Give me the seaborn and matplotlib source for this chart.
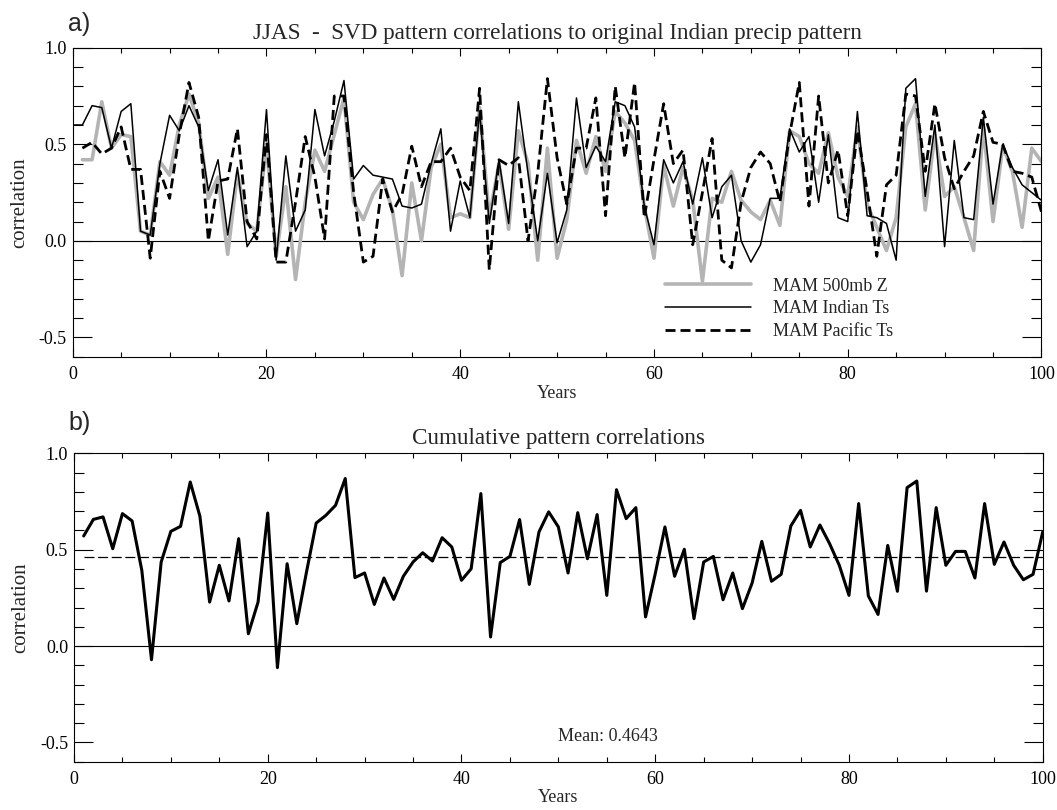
"""
JJAS - SVD pattern correlations: (a) per-predictor, (b) cumulative
"""
import numpy as np
import matplotlib
matplotlib.use("Agg")
import matplotlib.pyplot as plt
from matplotlib.ticker import MultipleLocator
import seaborn as sns

# ---------------------- data ----------------------
years = np.arange(1, 101)
years_ind = np.arange(0, 101)   # Indian Ts curve starts at year 0

z500 = [0.42, 0.42, 0.72, 0.48, 0.55, 0.54, 0.05, 0.03, 0.41, 0.34,
        0.60, 0.76, 0.61, 0.22, 0.33, -0.07, 0.35, 0.09, 0.05, 0.50,
        -0.08, 0.28, -0.20, 0.20, 0.47, 0.36, 0.55, 0.74, 0.20, 0.11,
        0.24, 0.32, 0.16, -0.18, 0.30, 0.00, 0.38, 0.50, 0.12, 0.14,
        0.12, 0.69, 0.12, 0.40, 0.06, 0.57, 0.40, -0.10, 0.48, -0.09,
        0.11, 0.52, 0.35, 0.54, 0.36, 0.67, 0.61, 0.52, 0.18, -0.09,
        0.39, 0.18, 0.38, 0.21, -0.21, 0.22, 0.20, 0.36, 0.21, 0.15,
        0.11, 0.21, 0.08, 0.57, 0.54, 0.40, 0.35, 0.56, 0.33, 0.23,
        0.59, 0.19, 0.07, -0.05, 0.12, 0.59, 0.71, 0.16, 0.55, 0.23,
        0.28, 0.12, -0.05, 0.59, 0.10, 0.49, 0.36, 0.07, 0.48, 0.41]

indian_ts = [0.60,
             0.60, 0.70, 0.69, 0.48, 0.67, 0.71, 0.05, 0.03, 0.40, 0.65,
             0.57, 0.70, 0.59, 0.26, 0.42, 0.03, 0.38, -0.03, 0.05, 0.68,
             -0.10, 0.44, 0.05, 0.16, 0.68, 0.44, 0.62, 0.83, 0.32, 0.39,
             0.34, 0.33, 0.32, 0.18, 0.17, 0.19, 0.40, 0.58, 0.05, 0.31,
             0.12, 0.67, 0.09, 0.42, 0.09, 0.72, 0.35, 0.00, 0.35, -0.01,
             0.16, 0.74, 0.38, 0.49, 0.41, 0.72, 0.70, 0.59, 0.18, -0.02,
             0.42, 0.30, 0.41, 0.19, 0.43, 0.12, 0.28, 0.34, 0.00, -0.11,
             -0.02, 0.22, 0.22, 0.58, 0.46, 0.54, 0.20, 0.55, 0.12, 0.10,
             0.67, 0.13, 0.12, 0.09, -0.10, 0.79, 0.84, 0.23, 0.60, -0.03,
             0.52, 0.12, 0.11, 0.64, 0.19, 0.50, 0.38, 0.29, 0.25, 0.21]

pacific_ts = [0.48, 0.51, 0.45, 0.48, 0.59, 0.37, 0.37, -0.09, 0.36, 0.22,
              0.55, 0.82, 0.64, 0.00, 0.31, 0.32, 0.58, 0.10, 0.01, 0.55,
              -0.11, -0.11, 0.20, 0.54, 0.33, 0.01, 0.75, 0.75, 0.25, -0.11,
              -0.08, 0.32, 0.15, 0.24, 0.49, 0.28, 0.41, 0.41, 0.48, 0.33,
              0.26, 0.79, -0.15, 0.42, 0.39, 0.43, 0.00, 0.35, 0.84, 0.43,
              0.19, 0.48, 0.48, 0.74, 0.13, 0.80, 0.43, 0.82, 0.12, 0.42,
              0.71, 0.40, 0.47, -0.02, 0.25, 0.53, -0.10, -0.14, 0.20, 0.38,
              0.46, 0.40, 0.20, 0.55, 0.82, 0.18, 0.75, 0.30, 0.47, 0.13,
              0.57, 0.26, -0.08, 0.29, 0.34, 0.76, 0.75, 0.36, 0.71, 0.43,
              0.27, 0.36, 0.44, 0.67, 0.51, 0.50, 0.36, 0.35, 0.33, 0.15]

cumulative = [0.571, 0.657, 0.670, 0.505, 0.687, 0.649, 0.393, -0.071, 0.436, 0.595,
              0.621, 0.851, 0.673, 0.228, 0.419, 0.234, 0.557, 0.064, 0.228, 0.690,
              -0.112, 0.427, 0.116, 0.384, 0.638, 0.678, 0.730, 0.869, 0.355, 0.379,
              0.216, 0.353, 0.242, 0.362, 0.436, 0.484, 0.441, 0.562, 0.514, 0.341,
              0.401, 0.791, 0.047, 0.433, 0.465, 0.656, 0.320, 0.592, 0.696, 0.618,
              0.379, 0.692, 0.453, 0.682, 0.263, 0.811, 0.661, 0.718, 0.151, 0.375,
              0.618, 0.362, 0.502, 0.142, 0.436, 0.465, 0.240, 0.379, 0.194, 0.327,
              0.543, 0.336, 0.372, 0.623, 0.704, 0.514, 0.628, 0.531, 0.419, 0.263,
              0.739, 0.260, 0.164, 0.522, 0.284, 0.822, 0.856, 0.285, 0.718, 0.419,
              0.491, 0.491, 0.353, 0.739, 0.424, 0.540, 0.419, 0.344, 0.372, 0.592]

mean_value = 0.4643

labels = ["MAM 500mb Z", "MAM Indian Ts", "MAM Pacific Ts"]

# ---------------------- style ----------------------
sns.set_style("ticks")
plt.rcParams['font.family'] = ['Liberation Serif', 'DejaVu Serif']
plt.rcParams['font.size'] = 13
plt.rcParams['lines.scale_dashes'] = False
plt.rcParams['axes.linewidth'] = 0.8
plt.rcParams['axes.edgecolor'] = 'black'
plt.rcParams['xtick.color'] = 'black'
plt.rcParams['ytick.color'] = 'black'

fig = plt.figure(figsize=(10.57, 8.10), dpi=100)
ax_a = fig.add_axes([0.0688, 0.5596, 0.9165, 0.3815])
ax_b = fig.add_axes([0.0700, 0.0596, 0.9165, 0.3808])


def style_axis(ax):
    ax.set_xlim(0, 100)
    ax.set_ylim(-0.6, 1.0)
    ax.xaxis.set_major_locator(MultipleLocator(20))
    ax.xaxis.set_minor_locator(MultipleLocator(5))
    ax.yaxis.set_major_locator(MultipleLocator(0.5))
    ax.yaxis.set_minor_locator(MultipleLocator(0.1))
    ax.yaxis.set_major_formatter(plt.FormatStrFormatter('%.1f'))
    ax.tick_params(which='both', direction='in', top=True, right=True,
                   width=0.8, labelsize=13)
    ax.tick_params(axis='x', which='major', length=6, pad=7)
    ax.tick_params(axis='x', which='minor', length=3.6)
    ax.tick_params(axis='y', which='major', length=14, pad=4.3)
    ax.tick_params(axis='y', which='minor', length=7)
    ax.axhline(0, color='black', lw=0.8, zorder=1)
    ax.set_xlabel("Years", fontsize=13)
    ax.set_ylabel("correlation", fontsize=15)
    ax.xaxis.set_label_coords(0.5, -0.09)
    ax.yaxis.set_label_coords(-0.045, 0.5)


# ---------------------- a) ----------------------
sns.lineplot(x=years, y=z500, ax=ax_a, color='#b4b4b4', linewidth=2.6,
             label=labels[0], zorder=2)
sns.lineplot(x=years_ind, y=indian_ts, ax=ax_a, color='black', linewidth=1.1,
             label=labels[1], zorder=3)
sns.lineplot(x=years, y=pacific_ts, ax=ax_a, color='black', linewidth=2.0,
             linestyle='--', label=labels[2], zorder=4)
ax_a.lines[-1].set_dashes((7.2, 3.6))
style_axis(ax_a)
ax_a.set_title("JJAS  -  SVD pattern correlations to original Indian precip pattern",
               fontsize=16.7, pad=6.5)
leg = ax_a.legend(loc='upper left', bbox_to_anchor=(0.611, 0.256), frameon=False,
                  borderpad=0, borderaxespad=0, handlelength=4.8,
                  handletextpad=1.2, labelspacing=0.32, fontsize=13)
leg.get_lines()[2].set_dashes((7.2, 3.6))

# ---------------------- b) ----------------------
sns.lineplot(x=years, y=cumulative, ax=ax_b, color='black', linewidth=2.2, zorder=3)
ax_b.hlines(mean_value, years[0], years[-1], colors='black', lw=0.9,
            linestyles=(0, (7.2, 2.6)), zorder=2)
style_axis(ax_b)
ax_b.set_title("Cumulative pattern correlations", fontsize=16.7, pad=6.5)
ax_b.text(0.551, 0.081, f"Mean: {mean_value:.4f}", transform=ax_b.transAxes,
          ha='center', va='center', fontsize=13)

fig.text(68 / 1057, 1 - 31.5 / 810, "a)", family='Liberation Sans', fontsize=18,
         ha='left', va='baseline')
fig.text(68 / 1057, 1 - 430 / 810, "b)", family='Liberation Sans', fontsize=18,
         ha='left', va='baseline')

fig.savefig("out.png", dpi=100)
plt.close(fig)
